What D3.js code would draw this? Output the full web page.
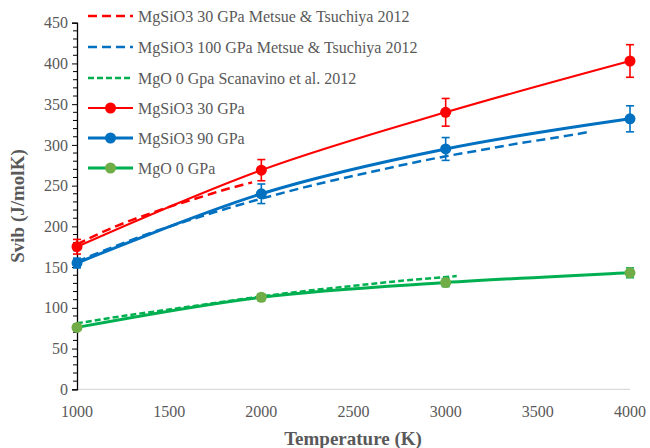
<!DOCTYPE html>
<html>
<head>
<meta charset="utf-8">
<script src="https://cdn.jsdelivr.net/npm/d3@7/dist/d3.min.js"></script>
<style>
  html, body { margin: 0; padding: 0; background: #fff; }
  svg { display: block; }
</style>
</head>
<body>
<svg id="chart" width="650" height="448"></svg>
<script>
// Measured vibrational entropy (points with error bars)
const temps = [1000, 2000, 3000, 4000];
const mgsio3_30 = [175, 269, 340, 403];
const mgsio3_30Err = [9, 13, 17, 20];
const mgsio3_90 = [155, 240, 295, 332];
const mgsio3_90Err = [6, 12, 14, 16];
const mgo_0 = [76, 113, 131, 143];
const mgo_0Err = [3, 4, 5, 6];

// Literature curves
const metsue30T = [1000, 1100, 1200, 1300, 1400, 1500, 1600, 1700, 1800, 1900, 1950];
const metsue30S = [178, 189, 199, 208, 216, 224, 231, 238, 245, 251, 254];
const metsue100T = [1000, 1200, 1400, 1600, 1800, 2000, 2200, 2400, 2600, 2800, 3000, 3200, 3400, 3600, 3780];
const metsue100S = [157, 175, 192, 207, 221, 234, 246, 257, 267, 277, 286, 294, 302, 309, 316];
const scanT = [1000, 1250, 1500, 1750, 2000, 2250, 2500, 2750, 3060];
const scanS = [81, 90, 98, 106, 114, 121, 127, 133, 139];

const yTicks = [0, 50, 100, 150, 200, 250, 300, 350, 400, 450];
const xTicks = [1000, 1500, 2000, 2500, 3000, 3500, 4000];

const legendLabels = [
  "MgSiO3 30 GPa Metsue & Tsuchiya 2012",
  "MgSiO3 100 GPa Metsue & Tsuchiya 2012",
  "MgO 0 Gpa Scanavino et al. 2012",
  "MgSiO3 30 GPa",
  "MgSiO3 90 GPa",
  "MgO 0 GPa"
];

const RED = "#FF0000", BLUE = "#0070C0", GREEN = "#00B050", GREEN_MK = "#70AD47";
const TEXT = "#595959";
const FONT = "Liberation Serif";

const svg = d3.select("#chart");
const x = d3.scaleLinear().domain([1000, 4000]).range([77, 630]);
const y = d3.scaleLinear().domain([0, 450]).range([389.3, 22.7]);

// text helper: start-anchored, then shifted by its measured width
// align: 0 = left, 0.5 = centred, 1 = right
function label(parent, str, px, py, size, bold, align, dy) {
  const t = parent.append("text")
    .attr("x", px).attr("y", py).attr("dy", dy || "0.35em")
    .attr("font-family", FONT).attr("font-size", size)
    .attr("fill", TEXT).text(str);
  if (bold) t.attr("font-weight", "bold");
  if (align) t.attr("x", px - align * t.node().getComputedTextLength());
  return t;
}

// x axis: plain grey baseline, labels only
svg.append("line")
  .attr("x1", x(1000)).attr("x2", x(4000))
  .attr("y1", y(0)).attr("y2", y(0))
  .attr("stroke", "#D9D9D9").attr("stroke-width", 1.3);
const xg = svg.append("g");
xTicks.forEach(v => label(xg, d3.format("d")(v), x(v), y(0) + 22, 16, false, 0.5));

// y axis: black spine with major and minor ticks
const minor = d3.range(0, 451, 10).filter(v => v % 50 !== 0);
svg.append("g").selectAll("line").data(minor).join("line")
  .attr("x1", x(1000) - 4).attr("x2", x(1000))
  .attr("y1", d => y(d)).attr("y2", d => y(d))
  .attr("stroke", "#000").attr("stroke-width", 1);
const yAxis = svg.append("g").attr("transform", `translate(${x(1000)},0)`)
  .call(d3.axisLeft(y).tickValues(yTicks).tickSize(5).tickFormat(""));
yAxis.select(".domain").attr("stroke", "#000").attr("stroke-width", 1.3);
yAxis.selectAll(".tick line").attr("stroke", "#000").attr("stroke-width", 1);
yAxis.selectAll(".tick text").remove();
const yg = svg.append("g");
yTicks.forEach(v => label(yg, d3.format("d")(v), x(1000) - 9, y(v), 16, false, 1));

// axis titles
label(svg, "Temperature (K)", 353, 438, 19, true, 0.5);
const yt = svg.append("g").attr("transform", "translate(17,206) rotate(-90)");
label(yt, "Svib (J/molK)", 0, 0, 19, true, 0.5);

const plot = svg.append("g");

// literature (dashed) curves
const smooth = d3.line().x(d => x(d[0])).y(d => y(d[1])).curve(d3.curveCardinal.tension(0));
const dashed = [
  { T: metsue30T, S: metsue30S, color: RED, dash: "9,5", w: 2.5 },
  { T: metsue100T, S: metsue100S, color: BLUE, dash: "9,5", w: 2.5 },
  { T: scanT, S: scanS, color: GREEN, dash: "6,3", w: 2.5 }
];
dashed.forEach(s => {
  plot.append("path")
    .attr("d", smooth(s.T.map((t, i) => [t, s.S[i]])))
    .attr("fill", "none").attr("stroke", s.color)
    .attr("stroke-width", s.w).attr("stroke-dasharray", s.dash);
});

// measured series: smoothed line, error bars and markers
const measured = [
  { S: mgsio3_30, E: mgsio3_30Err, color: RED, mk: RED, w: 2 },
  { S: mgsio3_90, E: mgsio3_90Err, color: BLUE, mk: BLUE, w: 3 },
  { S: mgo_0, E: mgo_0Err, color: GREEN, mk: GREEN_MK, w: 3 }
];
measured.forEach(s => {
  const pts = temps.map((t, i) => [t, s.S[i], s.E[i]]);
  plot.append("path")
    .attr("d", smooth(pts))
    .attr("fill", "none").attr("stroke", s.color).attr("stroke-width", s.w);
  const eb = plot.append("g").attr("stroke", s.color).attr("stroke-width", 1.6);
  pts.forEach(p => {
    const cx = x(p[0]);
    eb.append("line").attr("x1", cx).attr("x2", cx).attr("y1", y(p[1] - p[2])).attr("y2", y(p[1] + p[2]));
    eb.append("line").attr("x1", cx - 4).attr("x2", cx + 4).attr("y1", y(p[1] - p[2])).attr("y2", y(p[1] - p[2]));
    eb.append("line").attr("x1", cx - 4).attr("x2", cx + 4).attr("y1", y(p[1] + p[2])).attr("y2", y(p[1] + p[2]));
  });
  plot.append("g").selectAll("circle").data(pts).join("circle")
    .attr("cx", d => x(d[0])).attr("cy", d => y(d[1])).attr("r", 5.5)
    .attr("fill", s.mk);
});

// legend
const legendStyles = [
  { color: RED, dash: "9,5", w: 2.5, marker: null },
  { color: BLUE, dash: "9,5", w: 2.5, marker: null },
  { color: GREEN, dash: "6,3", w: 2.5, marker: null },
  { color: RED, dash: null, w: 2, marker: RED },
  { color: BLUE, dash: null, w: 3, marker: BLUE },
  { color: GREEN, dash: null, w: 3, marker: GREEN_MK }
];
const legendY = [16, 47, 78, 108, 138, 168];
const lg = svg.append("g");
legendLabels.forEach((lab, i) => {
  const st = legendStyles[i];
  const ly = legendY[i];
  const ln = lg.append("line").attr("x1", 88).attr("x2", 133).attr("y1", ly).attr("y2", ly)
    .attr("stroke", st.color).attr("stroke-width", st.w);
  if (st.dash) ln.attr("stroke-dasharray", st.dash);
  if (st.marker) lg.append("circle").attr("cx", 110.5).attr("cy", ly).attr("r", 5.5).attr("fill", st.marker);
  label(lg, lab, 138, ly, 16, false, 0);
});
</script>
</body>
</html>
